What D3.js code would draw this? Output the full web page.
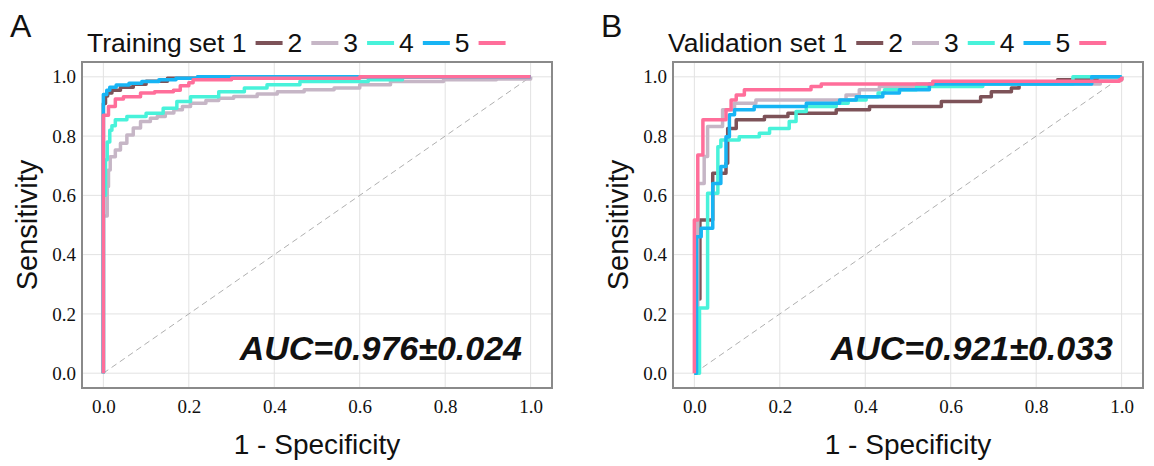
<!DOCTYPE html>
<html>
<head>
<meta charset="utf-8">
<script src="https://cdn.jsdelivr.net/npm/d3@7"></script>
<style>
  body { margin: 0; background: #fff; }
  .tick text { font-family: "Liberation Serif", serif; font-size: 19px; fill: #111; }
  .title { font-family: "Liberation Sans", Arial, sans-serif; fill: #111; }
</style>
</head>
<body>
<script>
const width = 1154
const height = 466

/* ROC points as [1 - specificity, sensitivity], drawn as steps. */
const train1 = [[0,0],[0,0.91],[0.005,0.935],[0.01,0.945],[0.02,0.955],[0.04,0.965],[0.07,0.975],[0.1,0.985],[0.15,0.995],[0.25,1],[1,1]]
const train2 = [[0,0],[0,0.53],[0.009,0.63],[0.012,0.686],[0.016,0.73],[0.028,0.753],[0.04,0.776],[0.055,0.804],[0.07,0.827],[0.087,0.849],[0.11,0.86],[0.126,0.866],[0.145,0.878],[0.165,0.889],[0.185,0.9],[0.204,0.911],[0.24,0.92],[0.27,0.928],[0.305,0.934],[0.36,0.942],[0.407,0.95],[0.47,0.956],[0.54,0.962],[0.6,0.973],[0.672,0.984],[0.796,0.99],[0.92,0.993],[1,1]]
const train3 = [[0,0],[0,0.6],[0.005,0.72],[0.009,0.78],[0.015,0.82],[0.02,0.835],[0.028,0.855],[0.055,0.866],[0.1,0.877],[0.14,0.894],[0.172,0.917],[0.204,0.933],[0.27,0.95],[0.33,0.962],[0.383,0.973],[0.46,0.984],[0.62,0.99],[0.7,1],[1,1]]
const train4 = [[0,0],[0,0.94],[0.008,0.955],[0.015,0.965],[0.03,0.972],[0.06,0.978],[0.09,0.984],[0.13,0.99],[0.17,0.995],[0.22,1],[1,1]]
const train5 = [[0,0],[0,0.87],[0.012,0.9],[0.028,0.925],[0.047,0.933],[0.087,0.945],[0.12,0.95],[0.164,0.955],[0.18,0.97],[0.2,0.98],[0.21,0.99],[0.3,0.995],[0.6,1],[1,1]]

const val1 = [[0,0],[0.005,0.25],[0.013,0.517],[0.043,0.675],[0.074,0.708],[0.078,0.826],[0.098,0.855],[0.164,0.866],[0.219,0.877],[0.332,0.889],[0.41,0.9],[0.578,0.917],[0.67,0.933],[0.695,0.95],[0.742,0.962],[0.76,0.976],[0.85,0.99],[1,1]]
const val2 = [[0,0],[0.008,0.45],[0.008,0.64],[0.023,0.731],[0.031,0.832],[0.066,0.889],[0.094,0.911],[0.144,0.922],[0.355,0.939],[0.386,0.956],[0.433,0.967],[0.52,0.976],[0.95,0.99],[1,1]]
const val3 = [[0,0],[0.012,0.22],[0.031,0.494],[0.031,0.607],[0.055,0.764],[0.062,0.787],[0.105,0.798],[0.152,0.81],[0.176,0.826],[0.222,0.849],[0.238,0.883],[0.262,0.9],[0.332,0.911],[0.36,0.922],[0.402,0.933],[0.43,0.945],[0.445,0.956],[0.52,0.967],[0.675,0.976],[0.886,1],[1,1]]
const val4 = [[0,0],[0.005,0.46],[0.016,0.489],[0.043,0.64],[0.062,0.697],[0.074,0.798],[0.082,0.872],[0.094,0.889],[0.14,0.9],[0.262,0.911],[0.34,0.922],[0.379,0.933],[0.441,0.945],[0.48,0.956],[0.55,0.976],[0.93,1],[1,1]]
const val5 = [[0,0],[0,0.517],[0.008,0.736],[0.02,0.855],[0.074,0.889],[0.086,0.922],[0.098,0.939],[0.117,0.956],[0.273,0.967],[0.297,0.976],[0.558,0.985],[0.995,0.99],[1,1]]

const seriesNames = ["1", "2", "3", "4", "5"]
const colors = ["#7d5258", "#c6b6c6", "#48f2da", "#17b4f4", "#ff6e9a"]
const tickValues = [0, 0.2, 0.4, 0.6, 0.8, 1.0]

const panels = [
  {letter: "A", legend: "Training set", auc: "AUC=0.976\u00b10.024", curves: [train1, train2, train3, train4, train5], dx: 0},
  {letter: "B", legend: "Validation set", auc: "AUC=0.921\u00b10.033", curves: [val1, val2, val3, val4, val5], dx: 591}
]

/* Create svg-element. */
const svg = d3.select("body")
  .append("svg")
  .attr("width", width)
  .attr("height", height)

panels.forEach(p => {
  const g = svg.append("g").attr("transform", `translate(${p.dx},0)`)

  const x = d3.scaleLinear().domain([-0.05, 1.05]).range([82, 552])
  const y = d3.scaleLinear().domain([-0.05, 1.05]).range([388, 62])

  /* Grid */
  g.selectAll(".gx").data(tickValues).join("line")
    .attr("x1", d => x(d)).attr("x2", d => x(d))
    .attr("y1", y.range()[0]).attr("y2", y.range()[1])
    .attr("stroke", "#e2e2e2").attr("stroke-width", 1)
  g.selectAll(".gy").data(tickValues).join("line")
    .attr("y1", d => y(d)).attr("y2", d => y(d))
    .attr("x1", x.range()[0]).attr("x2", x.range()[1])
    .attr("stroke", "#e2e2e2").attr("stroke-width", 1)

  /* Diagonal reference */
  g.append("line")
    .attr("x1", x(0)).attr("y1", y(0)).attr("x2", x(1)).attr("y2", y(1))
    .attr("stroke", "#b0b0b0").attr("stroke-width", 1)
    .attr("stroke-dasharray", "6,4")

  /* Curves */
  const line = d3.line()
    .x(d => x(d[0])).y(d => y(d[1]))
    .curve(d3.curveStepAfter)
  p.curves.forEach((c, i) => {
    g.append("path")
      .attr("d", line(c))
      .attr("fill", "none")
      .attr("stroke", colors[i])
      .attr("stroke-width", 3.5)
      .attr("stroke-linejoin", "round")
  })

  /* Frame */
  g.append("rect")
    .attr("x", 82).attr("y", 62).attr("width", 470).attr("height", 326)
    .attr("fill", "none").attr("stroke", "#8a8a8a").attr("stroke-width", 2)

  /* Axes */
  g.append("g")
    .attr("transform", "translate(0,388)")
    .call(d3.axisBottom(x).tickValues(tickValues).tickFormat(d3.format(".1f")).tickSize(0).tickPadding(12))
    .call(a => a.select(".domain").remove())
  g.append("g")
    .attr("transform", "translate(82,0)")
    .call(d3.axisLeft(y).tickValues(tickValues).tickFormat(d3.format(".1f")).tickSize(0).tickPadding(6))
    .call(a => a.select(".domain").remove())

  /* Axis titles */
  g.append("text").attr("class", "title")
    .attr("x", 317).attr("y", 454)
    .attr("text-anchor", "middle").attr("font-size", 28)
    .text("1 - Specificity")
  g.append("text").attr("class", "title")
    .attr("transform", "translate(37,225) rotate(-90)")
    .attr("text-anchor", "middle").attr("font-size", 29)
    .text("Sensitivity")

  /* AUC */
  g.append("text").attr("class", "title")
    .attr("x", 522).attr("y", 360)
    .attr("text-anchor", "end").attr("font-size", 34)
    .attr("font-weight", "bold").attr("font-style", "italic")
    .text(p.auc)

  /* Panel letter */
  g.append("text").attr("class", "title")
    .attr("x", 10).attr("y", 37).attr("font-size", 32)
    .text(p.letter)

  /* Legend */
  let cx = p.letter === "A" ? 87 : 77
  seriesNames.forEach((name, i) => {
    const t = g.append("text").attr("class", "title")
      .attr("x", cx).attr("y", 52).attr("font-size", 26.5)
      .text(i === 0 ? p.legend + " " + name : name)
    cx += t.node().getComputedTextLength() + 9
    g.append("line")
      .attr("x1", cx).attr("x2", cx + 27)
      .attr("y1", 43).attr("y2", 43)
      .attr("stroke", colors[i]).attr("stroke-width", 4)
    cx += 27 + 5
  })
})
</script>
</body>
</html>
